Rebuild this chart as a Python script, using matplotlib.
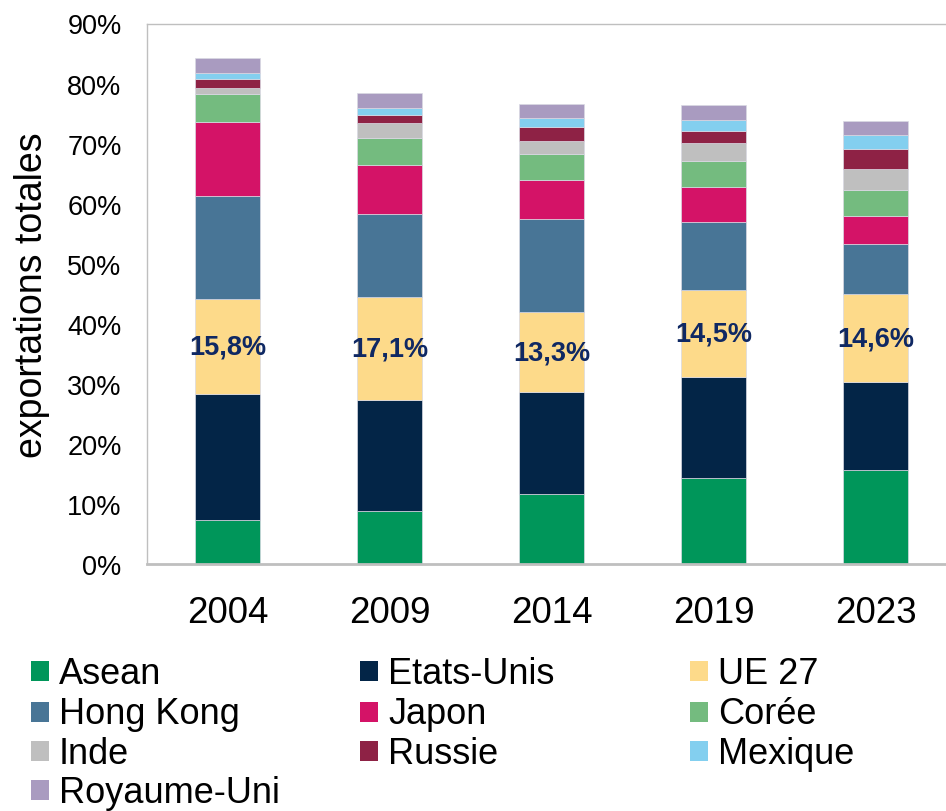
import numpy as np
import matplotlib.pyplot as plt
from matplotlib.patches import Rectangle

plt.rcParams['font.family'] = ['Liberation Sans', 'DejaVu Sans']

years = ['2004', '2009', '2014', '2019', '2023']
partners = ['Asean', 'Etats-Unis', 'UE 27', 'Hong Kong', 'Japon', 'Corée',
            'Inde', 'Russie', 'Mexique', 'Royaume-Uni']
colors = ['#00965A', '#032547', '#FDDA8A', '#487596', '#D41367', '#74BB7F',
          '#BFBFBF', '#8E2245', '#83CFEF', '#A99BC0']

# parts des exportations totales (%)
asean = [7.3, 8.9, 11.7, 14.4, 15.6]
etats_unis = [21.0, 18.4, 16.9, 16.8, 14.7]
ue27 = [15.8, 17.1, 13.3, 14.5, 14.6]
hong_kong = [17.1, 13.9, 15.5, 11.2, 8.4]
japon = [12.4, 8.1, 6.5, 5.8, 4.6]
coree = [4.7, 4.5, 4.3, 4.4, 4.4]
inde = [0.9, 2.5, 2.2, 3.0, 3.5]
russie = [1.6, 1.4, 2.3, 2.0, 3.3]
mexique = [0.9, 1.1, 1.5, 1.9, 2.4]
royaume_uni = [2.5, 2.6, 2.4, 2.5, 2.3]
ue_labels = ['15,8%', '17,1%', '13,3%', '14,5%', '14,6%']

series = [asean, etats_unis, ue27, hong_kong, japon, coree, inde, russie,
          mexique, royaume_uni]

fig = plt.figure(figsize=(9.46, 8.12), dpi=100)
ax = fig.add_axes([146.5 / 946, 247 / 812, (946 - 146.5) / 946, 540.5 / 812])

x = np.arange(len(years))
bottom = np.zeros(len(years))
for name, vals, col in zip(partners, series, colors):
    vals = np.array(vals)
    ax.bar(x, vals, 0.4, bottom=bottom, color=col, edgecolor='#d9d9e3',
           linewidth=0.5, label=name)
    if name == 'UE 27':
        for xi, b, v, lab in zip(x, bottom, vals, ue_labels):
            ax.text(xi, b + v / 2, lab, ha='center', va='center',
                    fontsize=19.5, fontweight='bold', color='#0F2863')
    bottom += vals

ax.set_xlim(-0.5, 4.435)
ax.set_ylim(0, 90)
ax.set_yticks(np.arange(0, 91, 10))
ax.set_yticklabels([f'{v}%' for v in range(0, 91, 10)])
ax.set_xticks(x)
ax.set_xticklabels(years)
ax.tick_params(axis='y', length=0, pad=18, labelsize=19.5)
ax.tick_params(axis='x', length=0, pad=22, labelsize=26.5)
for s in ['left', 'top']:
    ax.spines[s].set_color('#BFBFBF')
    ax.spines[s].set_linewidth(1.0)
ax.spines['bottom'].set_color('#BFBFBF')
ax.spines['bottom'].set_linewidth(2.0)
ax.spines['right'].set_visible(False)

fig.text(32 / 946, 1 - 295 / 812, 'exportations totales', rotation=90,
         ha='center', va='center', fontsize=27)

# légende en grille 3 colonnes, remplie ligne par ligne
col_x = [31, 360, 690]
row_y = [672, 712.5, 752, 791]
for i, (name, col) in enumerate(zip(partners, colors)):
    cx = col_x[i % 3]
    cy = row_y[i // 3]
    fig.patches.append(Rectangle((cx / 946, 1 - (cy + 10) / 812), 18 / 946,
                                 20 / 812, transform=fig.transFigure,
                                 facecolor=col, edgecolor='none'))
    fig.text((cx + 28) / 946, 1 - (cy + 12) / 812, name, ha='left',
             va='baseline', fontsize=26)

fig.savefig('out.png', dpi=100)
